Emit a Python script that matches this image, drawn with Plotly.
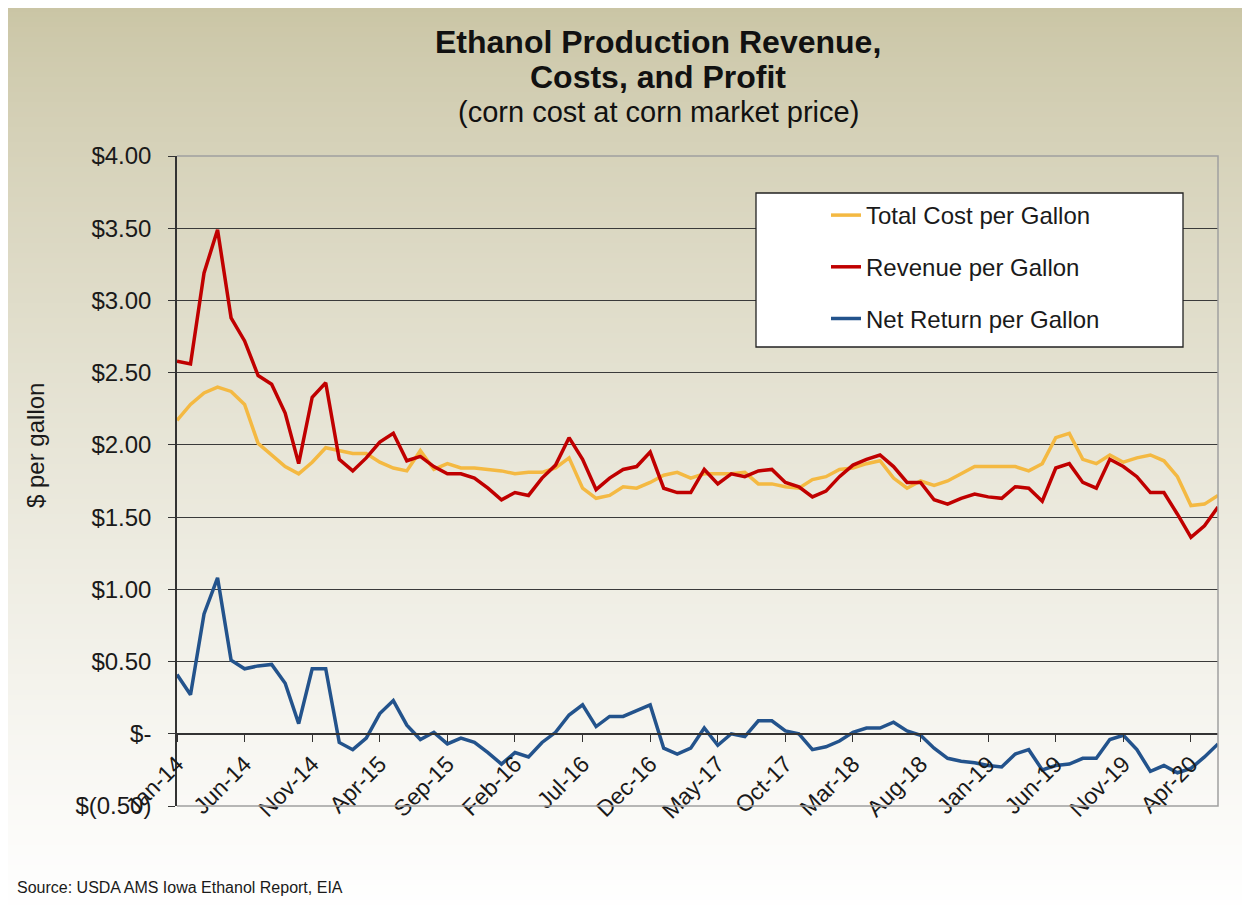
import base64, struct, zlib
import pandas as pd
import plotly.graph_objects as go

# ---------------- data ----------------
months = pd.date_range("2014-01-01", periods=78, freq="MS").strftime("%b-%y").tolist()

total_cost = [2.17, 2.28, 2.36, 2.40, 2.37, 2.28, 2.01, 1.93, 1.85, 1.80,
              1.88, 1.98, 1.96, 1.94, 1.94, 1.88, 1.84, 1.82, 1.96, 1.83,
              1.87, 1.84, 1.84, 1.83, 1.82, 1.80, 1.81, 1.81, 1.84, 1.91,
              1.70, 1.63, 1.65, 1.71, 1.70, 1.74, 1.79, 1.81, 1.77, 1.80,
              1.80, 1.80, 1.81, 1.73, 1.73, 1.71, 1.70, 1.76, 1.78, 1.83,
              1.84, 1.87, 1.89, 1.77, 1.70, 1.75, 1.72, 1.75, 1.80, 1.85,
              1.85, 1.85, 1.85, 1.82, 1.87, 2.05, 2.08, 1.90, 1.87, 1.93,
              1.88, 1.91, 1.93, 1.89, 1.78, 1.58, 1.59, 1.65]

revenue = [2.58, 2.56, 3.19, 3.49, 2.88, 2.72, 2.48, 2.42, 2.22, 1.87,
           2.33, 2.43, 1.90, 1.82, 1.91, 2.02, 2.08, 1.89, 1.92, 1.85,
           1.80, 1.80, 1.77, 1.70, 1.62, 1.67, 1.65, 1.77, 1.86, 2.05,
           1.90, 1.69, 1.77, 1.83, 1.85, 1.95, 1.70, 1.67, 1.67, 1.83,
           1.73, 1.80, 1.78, 1.82, 1.83, 1.74, 1.71, 1.64, 1.68, 1.78,
           1.86, 1.90, 1.93, 1.85, 1.74, 1.74, 1.62, 1.59, 1.63, 1.66,
           1.64, 1.63, 1.71, 1.70, 1.61, 1.84, 1.87, 1.74, 1.70, 1.90,
           1.85, 1.78, 1.67, 1.67, 1.52, 1.36, 1.44, 1.57]

net_return = [0.41, 0.27, 0.83, 1.08, 0.51, 0.45, 0.47, 0.48, 0.35, 0.07,
              0.45, 0.45, -0.06, -0.11, -0.03, 0.14, 0.23, 0.06, -0.04, 0.01,
              -0.07, -0.03, -0.06, -0.13, -0.21, -0.13, -0.16, -0.06, 0.01, 0.13,
              0.20, 0.05, 0.12, 0.12, 0.16, 0.20, -0.10, -0.14, -0.10, 0.04,
              -0.08, 0.00, -0.02, 0.09, 0.09, 0.02, 0.00, -0.11, -0.09, -0.05,
              0.01, 0.04, 0.04, 0.08, 0.02, -0.01, -0.10, -0.17, -0.19, -0.20,
              -0.22, -0.23, -0.14, -0.11, -0.25, -0.22, -0.21, -0.17, -0.17, -0.04,
              -0.01, -0.11, -0.26, -0.22, -0.27, -0.24, -0.16, -0.07]

y_tick_vals = [-0.5, 0, 0.5, 1.0, 1.5, 2.0, 2.5, 3.0, 3.5, 4.0]
y_tick_text = ["$(0.50)", "$-", "$0.50", "$1.00", "$1.50", "$2.00",
               "$2.50", "$3.00", "$3.50", "$4.00"]
x_tick_vals = months[::5]

series_names = ["Total Cost per Gallon", "Revenue per Gallon", "Net Return per Gallon"]
series_colors = ["#F4B942", "#C00000", "#23538C"]

# ---------------- layout geometry ----------------
W, H = 1250, 905
OFF = 8  # page body margin: figure origin sits at (8, 8) on the page
# plot area on the page: x 177..1218, y 156..806
L = 177 - OFF
T = 156 - OFF
R = W - (1218 - OFF)
B = H - (806 - OFF)
PW, PH = W - L - R, H - T - B


def px(xp):
    return (xp - OFF - L) / PW


def py(yp):
    return (H - B - (yp - OFF)) / PH


# gradient background image (khaki top -> white bottom)
def gradient_png(n=181):
    top = (202, 197, 165)
    bot = (255, 255, 255)
    rows = b""
    for i in range(n):
        t = (i / (n - 1)) ** 0.8
        c = bytes(int(round(top[k] + (bot[k] - top[k]) * t)) for k in range(3))
        rows += b"\x00" + c

    def chunk(tag, data):
        return (struct.pack(">I", len(data)) + tag + data +
                struct.pack(">I", zlib.crc32(tag + data) & 0xffffffff))

    png = b"\x89PNG\r\n\x1a\n"
    png += chunk(b"IHDR", struct.pack(">IIBBBBB", 1, n, 8, 2, 0, 0, 0))
    png += chunk(b"IDAT", zlib.compress(rows))
    png += chunk(b"IEND", b"")
    return "data:image/png;base64," + base64.b64encode(png).decode()


FONT = "Arial, Liberation Sans, sans-serif"

fig = go.Figure()
for name, vals, col in zip(series_names, [total_cost, revenue, net_return], series_colors):
    fig.add_trace(go.Scatter(
        x=months, y=vals, mode="lines", name=name, legendgroup=name,
        line=dict(color=col, width=3.5), hoverinfo="x+y+name"))

fig.update_layout(
    width=W, height=H,
    margin=dict(l=L, r=R, t=T, b=B, pad=0),
    paper_bgcolor="white", plot_bgcolor="white",
    font=dict(family=FONT, color="#1a1a1a"),
    showlegend=True,
    legend=dict(x=px(826), y=py(193), xanchor="left", yanchor="top",
                bgcolor="rgba(0,0,0,0)", borderwidth=0,
                font=dict(size=24, family=FONT, color="#1a1a1a"),
                traceorder="grouped", tracegroupgap=17.5, itemwidth=30),
    xaxis=dict(type="category", range=[0, 77], tickmode="array",
               tickvals=x_tick_vals, ticktext=x_tick_vals, tickangle=-45,
               ticks="outside", ticklen=7, tickcolor="#333", tickwidth=1.3,
               showline=True, linecolor="#333", linewidth=1.5,
               showgrid=False, anchor="free", position=1 / 9,
               tickfont=dict(size=23, family=FONT, color="#1a1a1a")),
    yaxis=dict(range=[-0.5, 4.0], tickmode="array", tickvals=y_tick_vals,
               ticktext=y_tick_text, ticks="outside", ticklen=7, tickcolor="#333",
               tickwidth=1.3, showline=True, linecolor="#333", linewidth=1.5,
               showgrid=True, gridcolor="#3a3a3a", gridwidth=1.2, zeroline=False,
               ticklabelstandoff=12,
               tickfont=dict(size=24, family=FONT, color="#1a1a1a")),
    images=[dict(source=gradient_png(), xref="paper", yref="paper",
                 x=px(7), y=py(4), sizex=(W - 7 + OFF) / PW, sizey=(H - 4 + OFF) / PH,
                 xanchor="left", yanchor="top", sizing="stretch", layer="below")],
    shapes=[
        # outer chart frame
        dict(type="rect", xref="paper", yref="paper", x0=px(7), y0=py(H + 20),
             x1=px(W + 20), y1=py(4), line=dict(color="#b4b4b4", width=1.5),
             fillcolor="rgba(0,0,0,0)", layer="below"),
        # grey plot border (bottom, right, top)
        dict(type="path", xref="paper", yref="paper",
             path="M 0,0 L 1,0 L 1,1 L 0,1", line=dict(color="#a0a0a0", width=1.5),
             layer="above"),
        # legend box
        dict(type="rect", xref="paper", yref="paper", x0=px(756), x1=px(1183),
             y0=py(347), y1=py(193), fillcolor="white",
             line=dict(color="#222", width=1.3), layer="above"),
    ],
    annotations=[
        dict(text="<b>Ethanol Production Revenue,</b>", xref="paper", yref="paper",
             x=px(658), y=py(42), xanchor="center", yanchor="middle",
             showarrow=False, font=dict(size=32, family=FONT, color="#111")),
        dict(text="<b>Costs, and Profit</b>", xref="paper", yref="paper",
             x=px(658), y=py(77), xanchor="center", yanchor="middle",
             showarrow=False, font=dict(size=32, family=FONT, color="#111")),
        dict(text="(corn cost at corn market price)", xref="paper", yref="paper",
             x=px(658), y=py(112), xanchor="center", yanchor="middle",
             showarrow=False, font=dict(size=29, family=FONT, color="#111")),
        dict(text="$ per gallon", xref="paper", yref="paper",
             x=px(35), y=py(446), xanchor="center", yanchor="middle",
             textangle=-90, showarrow=False,
             font=dict(size=24, family=FONT, color="#1a1a1a")),
        dict(text="Source: USDA AMS Iowa Ethanol Report, EIA", xref="paper",
             yref="paper", x=px(15), y=py(888), xanchor="left", yanchor="middle",
             showarrow=False, font=dict(size=16, family=FONT, color="#1a1a1a")),
    ],
)

fig.write_html("out.html")
